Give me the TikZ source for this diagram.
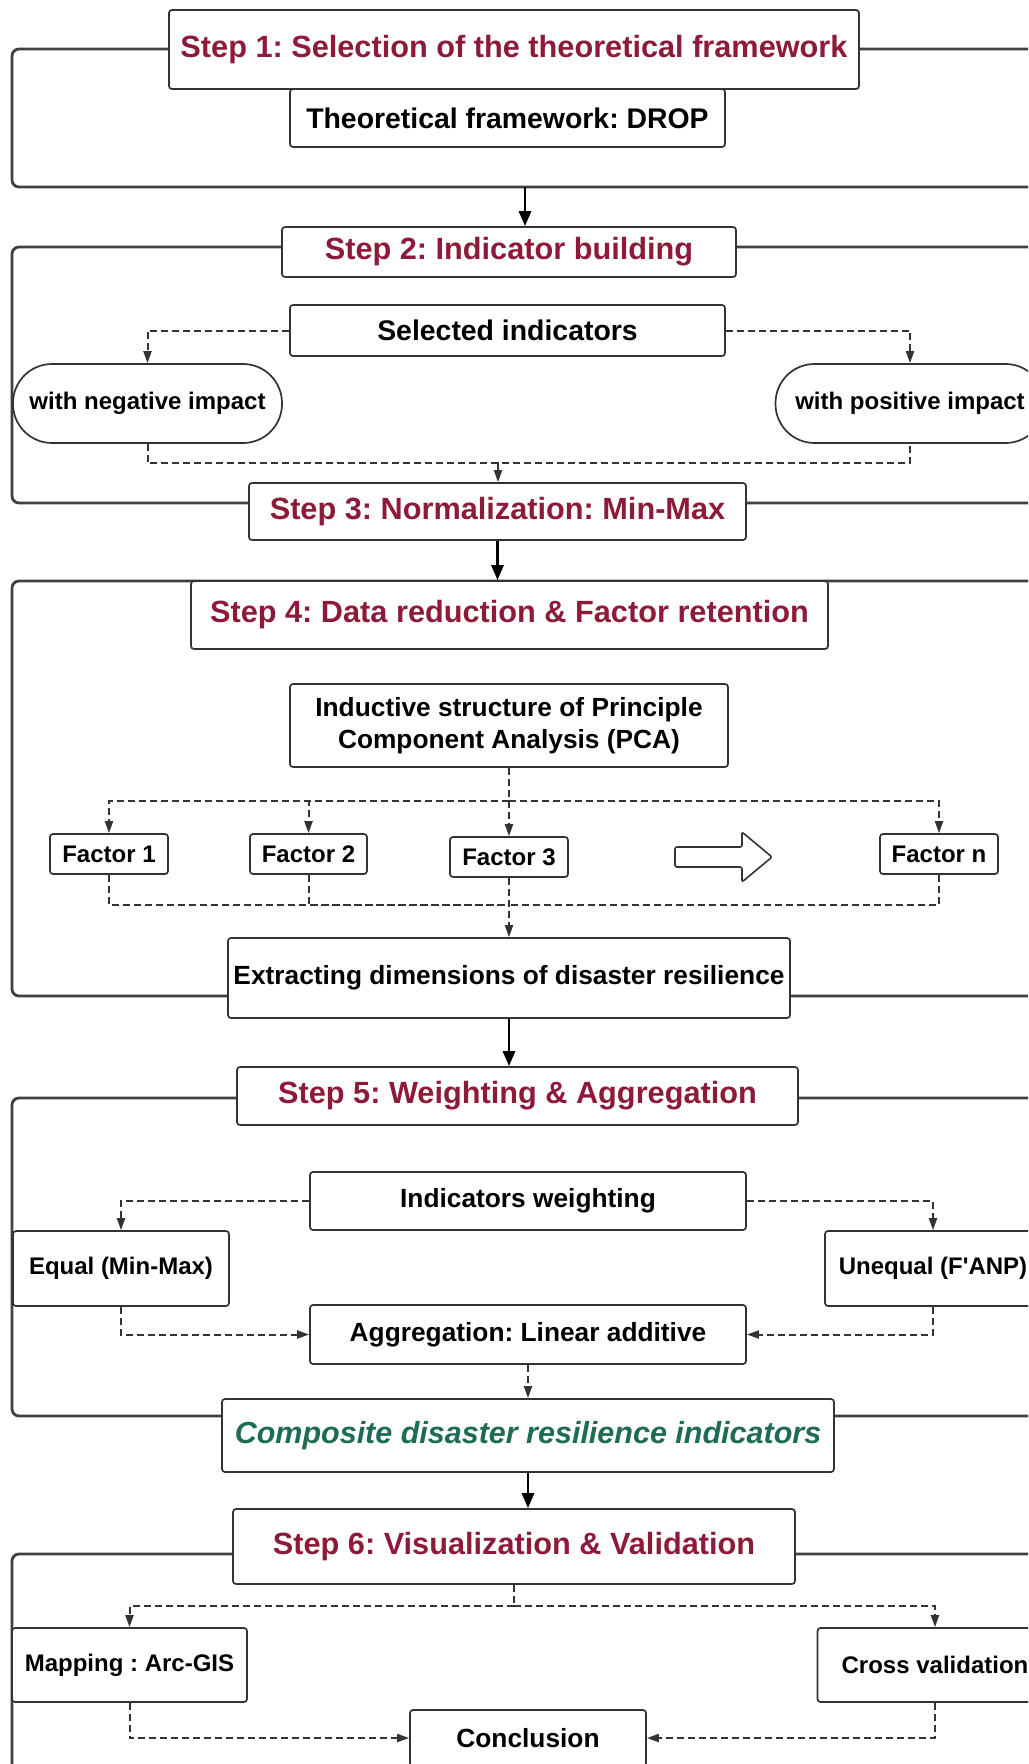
\documentclass[tikz,border=0pt]{standalone}
\usepackage{fontspec}
\setmainfont{Liberation Sans}[Ligatures=TeXOff]
\usetikzlibrary{arrows.meta}
\definecolor{stepred}{HTML}{8E1A3A}
\definecolor{compgreen}{HTML}{1E6B56}
\definecolor{linegray}{HTML}{333333}
\definecolor{framegray}{HTML}{404040}

\begin{document}
\frenchspacing
\begin{tikzpicture}[x=1pt,y=-1pt,
  wh/.style 2 args={minimum width=#1,minimum height=#2},
  box/.style={draw=linegray, line width=1.7pt, rounded corners=3pt, fill=white,
    inner sep=0pt, align=center, text=black},
  stepbox/.style={box, text=stepred, font=\bfseries\fontsize{30.7}{34}\selectfont},
  bigtxt/.style={box, font=\bfseries\fontsize{28.4}{32}\selectfont},
  midtxt/.style={box, font=\bfseries\fontsize{26.3}{32}\selectfont},
  smalltxt/.style={box, font=\bfseries\fontsize{24}{28}\selectfont},
  pill/.style={smalltxt, rounded corners=39pt},
  frame/.style={draw=framegray, line width=2.8pt, rounded corners=7pt},
  flow/.style={draw=black, line width=2.8pt, -{Triangle[length=15pt,width=12pt]}},
  dashline/.style={draw=linegray, line width=2pt, dash pattern=on 7pt off 4pt},
  dasharrow/.style={dashline, -{Triangle[length=12pt,width=8pt]}}
]
\useasboundingbox (0,0) rectangle (1028,1764);
\clip (0,0) rectangle (1028,1764);
\fill[white] (0,0) rectangle (1028,1764);

% stage frames, open to the right
\draw[frame] (1060,49)   -- (12,49)   -- (12,187)  -- (1060,187);
\draw[frame] (1060,247)  -- (12,247)  -- (12,503)  -- (1060,503);
\draw[frame] (1060,581)  -- (12,581)  -- (12,996)  -- (1060,996);
\draw[frame] (1060,1098) -- (12,1098) -- (12,1416) -- (1060,1416);
\draw[frame] (1060,1554) -- (12,1554) -- (12,1820);

% step 1
\node[stepbox, wh={690pt}{79pt}] (s1) at (514,49.5) {Step 1: Selection of the theoretical framework};
\node[bigtxt, wh={435pt}{58pt}] (drop) at (507.5,118) {Theoretical framework: DROP};
\coordinate (a1) at (525,187);

% step 2
\node[stepbox, wh={454pt}{50pt}] (s2) at (509,252) {Step 2: Indicator building};
\node[bigtxt, wh={435pt}{51pt}] (sel) at (507.5,330.5) {Selected indicators};
\node[pill, wh={269pt}{79pt}] (neg) at (147.5,403.5) {with negative impact};
\node[pill, wh={269pt}{79pt}] (pos) at (910,403.5) {with positive impact};
\coordinate (j2) at (498,463);

% step 3
\node[stepbox, wh={497pt}{57pt}] (s3) at (497.5,511.5) {Step 3: Normalization: Min-Max};

% step 4
\node[stepbox, wh={637pt}{68pt}] (s4) at (509.5,615) {Step 4: Data reduction \& Factor retention};
\node[midtxt, wh={438pt}{83pt}] (pca) at (509,725.5) {Inductive structure of Principle\\Component Analysis (PCA)};
\node[smalltxt, wh={118pt}{40pt}] (f1) at (109,854) {Factor 1};
\node[smalltxt, wh={117pt}{40pt}] (f2) at (308.5,854) {Factor 2};
\node[smalltxt, wh={118pt}{40pt}] (f3) at (509,857) {Factor 3};
\node[smalltxt, wh={118pt}{40pt}] (fn) at (939,854) {Factor n};
\node[midtxt, wh={562pt}{80pt}] (ext) at (509,978) {Extracting dimensions of disaster resilience};
\coordinate (h4) at (509,801);
\coordinate (j4) at (509,905);

% hollow block arrow between the factors
\draw[draw=linegray, line width=1.6pt, fill=white, rounded corners=2pt]
  (675,847) -- (742,847) -- (742,832) -- (772,857) -- (742,882) -- (742,867) -- (675,867) -- cycle;

% step 5
\node[stepbox, wh={561pt}{58pt}] (s5) at (517.5,1096) {Step 5: Weighting \& Aggregation};
\node[midtxt, wh={436pt}{58pt}] (iw) at (528,1201) {Indicators weighting};
\node[smalltxt, wh={216pt}{75pt}] (eq) at (121,1268.5) {Equal (Min-Max)};
\node[smalltxt, wh={216pt}{75pt}] (uneq) at (933,1268.5) {Unequal (F'ANP)};
\node[midtxt, wh={436pt}{59pt}] (agg) at (528,1334.5) {Aggregation: Linear additive};
\node[box, text=compgreen, font=\bfseries\itshape\fontsize{30.5}{34}\selectfont, wh={612pt}{73pt}] (comp) at (528,1435.5) {Composite disaster resilience indicators};

% step 6
\node[stepbox, wh={562pt}{75pt}] (s6) at (514,1546.5) {Step 6: Visualization \& Validation};
\node[smalltxt, wh={235pt}{74pt}] (map) at (129.5,1665) {Mapping : Arc-GIS};
\node[smalltxt, wh={235pt}{74pt}] (cross) at (935,1665) {Cross validation};
\node[midtxt, wh={236pt}{56pt}] (concl) at (528,1738) {Conclusion};
\coordinate (j6) at (514,1606);

% main flow between stages
\draw[flow] (a1) -- (a1 |- s2.north);
\draw[flow] (s3.south) -- (s3.south |- s4.north);
\draw[flow] (ext.south) -- (ext.south |- s5.north);
\draw[flow] (comp.south) -- (comp.south |- s6.north);

% step 2 branches
\draw[dasharrow] (sel.west) -| (neg.north);
\draw[dasharrow] (sel.east) -| (pos.north);
\draw[dashline] (neg.south) |- (j2) -| (pos.south);
\draw[dasharrow] (j2) -- (j2 |- s3.north);

% step 4 factors
\draw[dasharrow] (pca.south) -- (f3.north);
\draw[dasharrow] (h4) -| (f1.north);
\draw[dasharrow] (h4) -| (f2.north);
\draw[dasharrow] (h4) -| (fn.north);
\draw[dashline] (f1.south) |- (j4);
\draw[dashline] (f2.south) |- (j4);
\draw[dashline] (fn.south) |- (j4);
\draw[dasharrow] (f3.south) -- (ext.north);

% step 5 weighting
\draw[dasharrow] (iw.west) -| (eq.north);
\draw[dasharrow] (iw.east) -| (uneq.north);
\draw[dasharrow] (eq.south) |- (agg.west);
\draw[dasharrow] (uneq.south) |- (agg.east);
\draw[dasharrow] (agg.south) -- (comp.north);

% step 6 outputs
\draw[dashline] (s6.south) -- (j6);
\draw[dasharrow] (j6) -| (map.north);
\draw[dasharrow] (j6) -| (cross.north);
\draw[dasharrow] (map.south) |- (concl.west);
\draw[dasharrow] (cross.south) |- (concl.east);
\end{tikzpicture}
\end{document}
